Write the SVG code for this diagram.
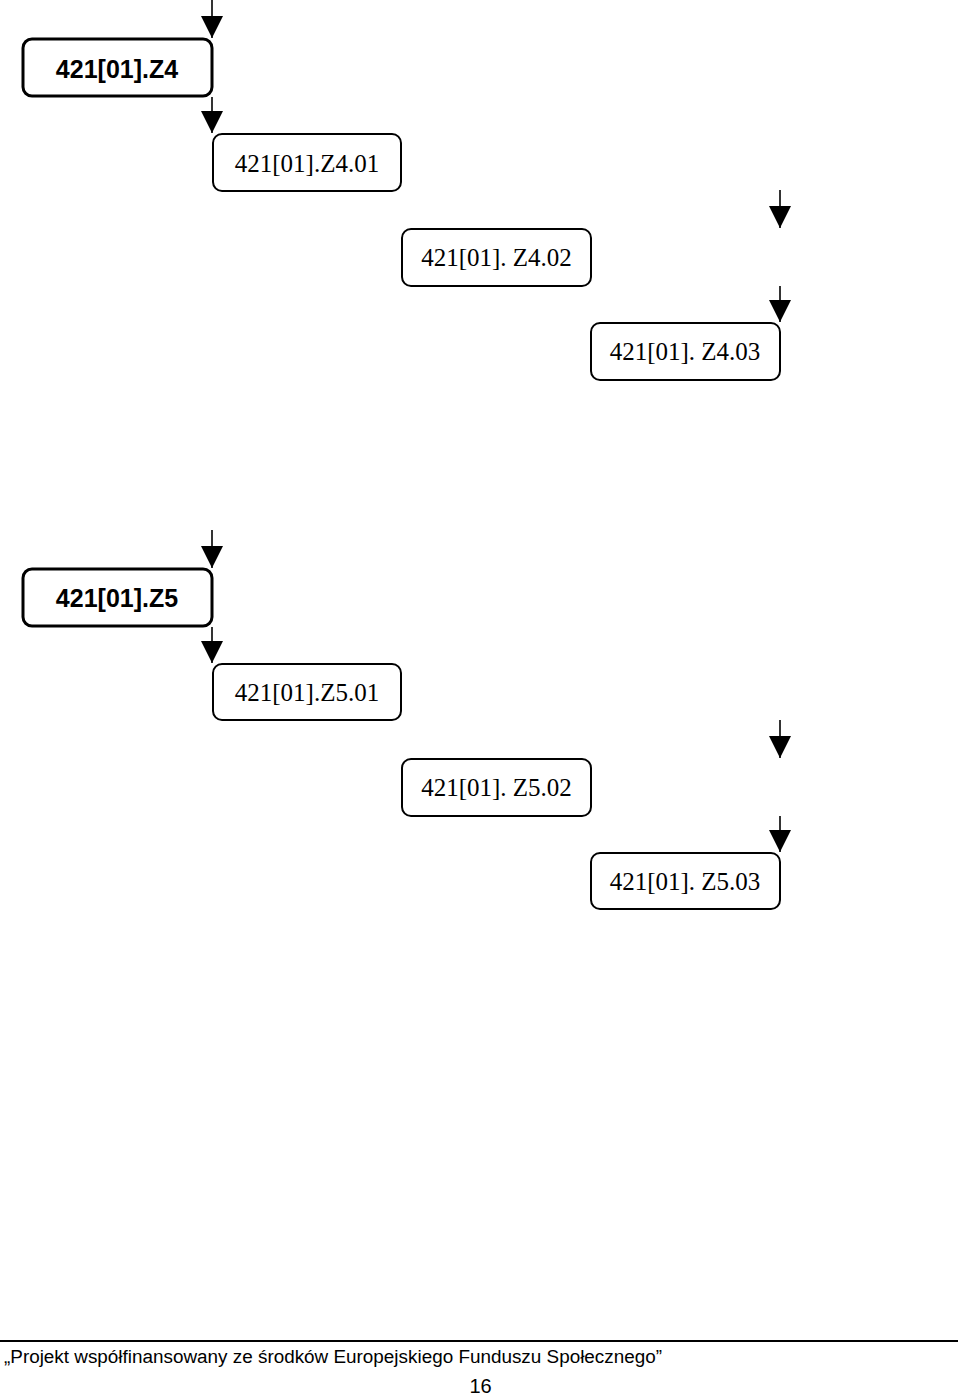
<svg xmlns="http://www.w3.org/2000/svg" width="960" height="1396" viewBox="0 0 960 1396">
<style>
.main rect{fill:#fff;stroke:#000;stroke-width:3}
.sub rect{fill:#fff;stroke:#000;stroke-width:2}
.main text{font-family:"Liberation Sans",Arial,sans-serif;font-weight:bold;font-size:25px;text-anchor:middle;fill:#000}
.sub text{font-family:"Liberation Serif","Times New Roman",serif;font-size:25px;text-anchor:middle;fill:#000}
.conn line{stroke:#000;stroke-width:1.6;marker-end:url(#ah)}
.foot{font-family:"Liberation Sans",Arial,sans-serif;fill:#000}
</style>
<defs>
<marker id="ah" markerUnits="userSpaceOnUse" markerWidth="22" markerHeight="22" refX="22" refY="11" orient="auto" viewBox="0 0 22 22">
<path d="M0,0 L22,11 L0,22 z" fill="#000"/>
</marker>
</defs>
<rect width="960" height="1396" fill="#fff"/>
<g id="connectors" class="conn">
<line x1="212" y1="0" x2="212" y2="38"/>
<line x1="212" y1="97" x2="212" y2="133"/>
<line x1="780" y1="190" x2="780" y2="228"/>
<line x1="780" y1="286" x2="780" y2="322"/>
<line x1="212" y1="530" x2="212" y2="568"/>
<line x1="212" y1="627" x2="212" y2="663"/>
<line x1="780" y1="720" x2="780" y2="758"/>
<line x1="780" y1="816" x2="780" y2="852"/>
</g>
<g id="z4" class="main"><rect x="23" y="39" width="189" height="57" rx="9"/><text x="117" y="78">421[01].Z4</text></g>
<g id="z4-01" class="sub"><rect x="213" y="134" width="188" height="57" rx="9"/><text x="307" y="172">421[01].Z4.01</text></g>
<g id="z4-02" class="sub"><rect x="402" y="229" width="189" height="57" rx="9"/><text x="496.5" y="266">421[01]. Z4.02</text></g>
<g id="z4-03" class="sub"><rect x="591" y="323" width="189" height="57" rx="9"/><text x="685" y="360">421[01]. Z4.03</text></g>
<g id="z5" class="main"><rect x="23" y="569" width="189" height="57" rx="9"/><text x="117" y="607">421[01].Z5</text></g>
<g id="z5-01" class="sub"><rect x="213" y="664" width="188" height="56" rx="9"/><text x="307" y="701">421[01].Z5.01</text></g>
<g id="z5-02" class="sub"><rect x="402" y="759" width="189" height="57" rx="9"/><text x="496.5" y="796">421[01]. Z5.02</text></g>
<g id="z5-03" class="sub"><rect x="591" y="853" width="189" height="56" rx="9"/><text x="685" y="890">421[01]. Z5.03</text></g>
<g id="footer">
<line x1="0" y1="1341" x2="958" y2="1341" stroke="#000" stroke-width="2"/>
<text class="foot" x="4" y="1363" font-size="18" textLength="658" lengthAdjust="spacingAndGlyphs">„Projekt współfinansowany ze środków Europejskiego Funduszu Społecznego”</text>
<text class="foot" x="480.5" y="1393" font-size="20" text-anchor="middle">16</text>
</g>
</svg>
